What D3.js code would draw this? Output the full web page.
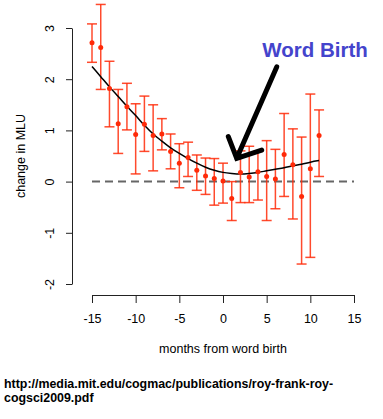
<!DOCTYPE html>
<html>
<head>
<meta charset="utf-8">
<script src="https://cdn.jsdelivr.net/npm/d3@7"></script>
<style>
  body { margin: 0; background: #fff; }
  svg { display: block; font-family: "Liberation Sans", Arial, sans-serif; }
</style>
</head>
<body>
<div id="chart"></div>
<script>
// Data
const months = [-15, -14, -13, -12, -11, -10, -9, -8, -7, -6, -5, -4, -3, -2, -1, 0, 1, 2, 3, 4, 5, 6, 7, 8, 9, 10, 11];
const mluChange = [2.71, 2.62, 1.82, 1.13, 1.46, 0.92, 1.12, 0.90, 0.93, 0.59, 0.36, 0.47, 0.22, 0.11, 0.06, 0.01, -0.33, 0.18, 0.09, 0.19, 0.10, 0.05, 0.53, 0.33, -0.29, 0.25, 0.90];
const upper = [3.08, 3.46, 2.35, 1.80, 1.92, 1.52, 1.67, 1.50, 1.23, 0.93, 0.74, 0.77, 0.52, 0.46, 0.45, 0.36, 0.00, 0.60, 0.69, 0.59, 0.80, 0.63, 1.33, 1.03, 0.87, 1.71, 1.40];
const lower = [2.33, 1.80, 1.07, 0.55, 1.01, 0.15, 0.59, 0.21, 0.62, 0.25, -0.12, 0.10, -0.17, -0.25, -0.46, -0.42, -0.76, -0.41, -0.41, -0.36, -0.76, -0.53, -0.29, -0.73, -1.61, -1.48, 0.10];
const fitted = [2.25, 2.05, 1.85, 1.66, 1.47, 1.29, 1.10, 0.93, 0.79, 0.66, 0.55, 0.45, 0.36, 0.28, 0.22, 0.18, 0.16, 0.15, 0.16, 0.18, 0.21, 0.24, 0.27, 0.31, 0.34, 0.38, 0.41];
const xTicks = [-15, -10, -5, 0, 5, 10, 15];
const yTicks = [-2, -1, 0, 1, 2, 3];

// annotation arrow, in data units
const arrowShaft = [[6.15, 2.24], [1.57, 0.455]];
const arrowHead = [[0.61, 0.877], [1.57, 0.455], [4.43, 0.617]];
const labelAt = [4.5, 2.43];

const data = months.map((m, i) => ({ m, v: mluChange[i], hi: upper[i], lo: lower[i], fit: fitted[i] }));

// Dimensions
const width = 383;
const height = 419;
const red = "#ff2a08";

const svg = d3.select("#chart")
  .append("svg")
    .attr("width", width)
    .attr("height", height);

const x = d3.scaleLinear().domain([-15, 15]).range([92, 354]);
const y = d3.scaleLinear().domain([-2, 3]).range([284, 28]);

// Axes (R style labels: plain hyphen minus, no decimals)
const bottomAxis = d3.axisBottom(x)
  .tickValues(xTicks)
  .tickFormat(d => String(d))
  .tickSize(8)
  .tickSizeOuter(0)
  .tickPadding(11);
const gx = svg.append("g")
    .attr("class", "axis axis-x")
    .attr("transform", "translate(0, 295)")
    .call(bottomAxis);
gx.selectAll("text")
    .attr("font-size", "12.5px")
    .attr("font-family", "Liberation Sans, Arial, sans-serif")
    .attr("fill", "#000");

const leftAxis = d3.axisLeft(y)
  .tickValues(yTicks)
  .tickFormat(d => String(d))
  .tickSize(6)
  .tickSizeOuter(0);
const gy = svg.append("g")
    .attr("class", "axis axis-y")
    .attr("transform", "translate(72, 0)")
    .call(leftAxis);
gy.selectAll("text")
    .attr("x", null)
    .attr("dy", "0.35em")
    .attr("text-anchor", "middle")
    .attr("transform", "translate(-22, 0) rotate(-90)")
    .attr("font-size", "12.5px")
    .attr("font-family", "Liberation Sans, Arial, sans-serif")
    .attr("fill", "#000");
svg.selectAll(".axis path, .axis line").attr("stroke", "#222");

// Axis titles
svg.append("text")
    .attr("x", x(0))
    .attr("y", 353)
    .attr("text-anchor", "middle")
    .attr("font-size", "12.5px")
    .text("months from word birth");
svg.append("text")
    .attr("transform", `translate(21, ${y(0.5)}) rotate(-90)`)
    .attr("dy", "0.35em")
    .attr("text-anchor", "middle")
    .attr("font-size", "12.5px")
    .text("change in MLU");

// Zero reference line
svg.append("line")
    .attr("x1", x(-15))
    .attr("x2", x(15))
    .attr("y1", y(0))
    .attr("y2", y(0))
    .attr("stroke", "#666")
    .attr("stroke-width", 2)
    .attr("stroke-dasharray", "8,5");

// Error bars
const capHalf = 5;
const bars = svg.append("g")
    .attr("class", "errorbars")
    .attr("stroke", red)
    .attr("stroke-width", 1.5)
    .attr("stroke-opacity", 0.85)
  .selectAll(".bar")
  .data(data)
  .join("g")
    .attr("class", "bar");
bars.append("line")
    .attr("x1", d => x(d.m))
    .attr("x2", d => x(d.m))
    .attr("y1", d => y(d.hi))
    .attr("y2", d => y(d.lo));
bars.append("line")
    .attr("x1", d => x(d.m) - capHalf)
    .attr("x2", d => x(d.m) + capHalf)
    .attr("y1", d => y(d.hi))
    .attr("y2", d => y(d.hi));
bars.append("line")
    .attr("x1", d => x(d.m) - capHalf)
    .attr("x2", d => x(d.m) + capHalf)
    .attr("y1", d => y(d.lo))
    .attr("y2", d => y(d.lo));

// Fitted curve
const line = d3.line()
  .x(d => x(d.m))
  .y(d => y(d.fit))
  .curve(d3.curveMonotoneX);
svg.append("path")
    .datum(data)
    .attr("d", line)
    .attr("fill", "none")
    .attr("stroke", "#000")
    .attr("stroke-width", 1.5);

// Points
svg.append("g")
  .selectAll("circle")
  .data(data)
  .join("circle")
    .attr("cx", d => x(d.m))
    .attr("cy", d => y(d.v))
    .attr("r", 2.5)
    .attr("fill", red);

// Annotation
const toPx = p => [x(p[0]), y(p[1])];
const arrowPath = d3.line();
svg.append("path")
    .attr("d", arrowPath(arrowShaft.map(toPx)) + arrowPath(arrowHead.map(toPx)))
    .attr("fill", "none")
    .attr("stroke", "#000")
    .attr("stroke-width", 5)
    .attr("stroke-linecap", "round")
    .attr("stroke-linejoin", "miter");
svg.append("text")
    .attr("x", x(labelAt[0]))
    .attr("y", y(labelAt[1]))
    .attr("font-size", "20.5px")
    .attr("font-weight", "bold")
    .attr("fill", "#4444cc")
    .text("Word Birth");

// Source
const src = svg.append("text")
    .attr("font-size", "12.4px")
    .attr("font-weight", "bold")
    .attr("fill", "#000");
src.append("tspan").attr("x", 4).attr("y", 388).text("http://media.mit.edu/cogmac/publications/roy-frank-roy-");
src.append("tspan").attr("x", 4).attr("y", 402).text("cogsci2009.pdf");
</script>
</body>
</html>
